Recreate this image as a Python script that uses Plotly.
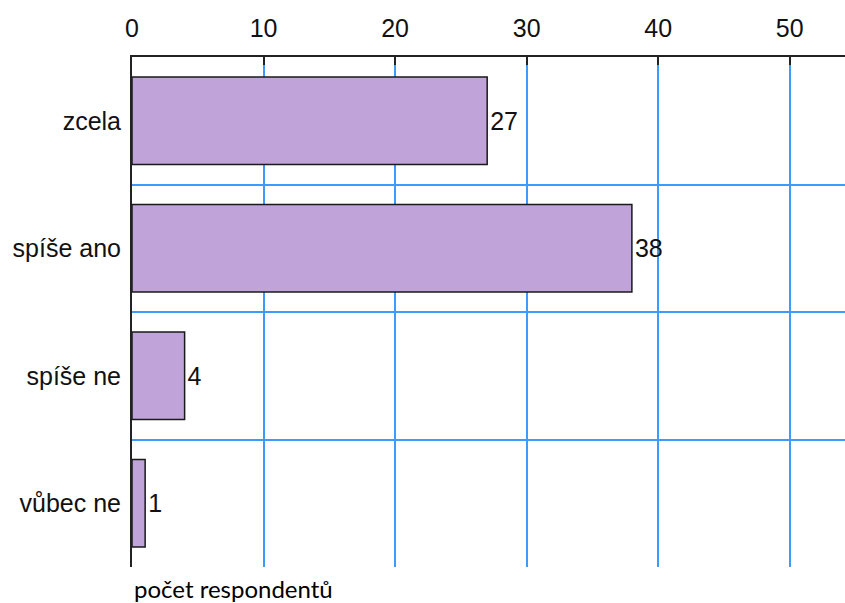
import plotly.graph_objects as go

# survey answers and number of respondents
categories = ["zcela", "spíše ano", "spíše ne", "vůbec ne"]
counts = [27, 38, 4, 1]
x_tick_values = [0, 10, 20, 30, 40, 50]
axis_title = "počet respondentů"

FONT = "Liberation Sans, Arial, sans-serif"

fig = go.Figure(
    go.Bar(
        x=counts,
        y=categories,
        orientation="h",
        width=0.685,
        marker=dict(color="#BFA3D9", line=dict(color="#1a1a1a", width=1.5)),
        text=[str(v) for v in counts],
        textposition="outside",
        textfont=dict(family=FONT, size=25, color="#111111"),
        cliponaxis=False,
    )
)

fig.update_layout(
    width=845,
    height=603,
    margin=dict(l=132, r=0, t=57, b=36),
    paper_bgcolor="white",
    plot_bgcolor="white",
    showlegend=False,
    font=dict(family=FONT, size=25, color="#111111"),
    xaxis=dict(
        side="top",
        range=[0, 54.2],
        tickvals=x_tick_values,
        ticks="inside",
        ticklen=8,
        tickwidth=2,
        tickcolor="#222222",
        showline=True,
        linecolor="#222222",
        linewidth=2,
        showgrid=True,
        gridcolor="#3D9BFF",
        gridwidth=1.5,
        zeroline=False,
        ticklabelstandoff=8,
        tickfont=dict(family=FONT, size=25),
    ),
    yaxis=dict(
        type="category",
        categoryorder="array",
        categoryarray=categories,
        range=[3.5, -0.5],
        tickson="boundaries",
        ticks="",
        showline=True,
        linecolor="#222222",
        linewidth=2,
        showgrid=True,
        gridcolor="#3D9BFF",
        gridwidth=1.5,
        zeroline=False,
        ticklabelstandoff=4,
        tickfont=dict(family=FONT, size=25),
    ),
    annotations=[
        dict(
            text=axis_title,
            xref="paper",
            yref="paper",
            x=0,
            y=0,
            xanchor="left",
            yanchor="top",
            yshift=-5,
            showarrow=False,
            font=dict(family="Lato, Carlito, sans-serif", size=24, color="#000000"),
        )
    ],
)

fig.write_html("out.html")
